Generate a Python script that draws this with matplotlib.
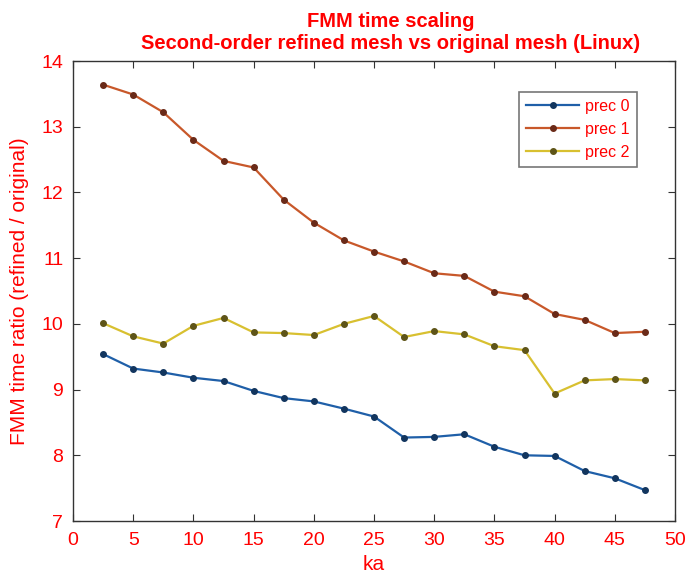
import matplotlib
matplotlib.use("Agg")
import matplotlib.pyplot as plt

plt.rcParams['font.family'] = ['Liberation Sans', 'DejaVu Sans']

# ka sample points and refined/original time ratios per precision level
ka = [2.5, 5, 7.5, 10, 12.5, 15, 17.5, 20, 22.5, 25,
      27.5, 30, 32.5, 35, 37.5, 40, 42.5, 45, 47.5]
prec0 = [9.54, 9.32, 9.26, 9.18, 9.13, 8.98, 8.87, 8.82, 8.71, 8.59,
         8.27, 8.28, 8.32, 8.13, 8.00, 7.99, 7.76, 7.65, 7.47]
prec1 = [13.64, 13.49, 13.22, 12.80, 12.48, 12.38, 11.89, 11.54, 11.27, 11.10,
         10.95, 10.77, 10.73, 10.49, 10.42, 10.15, 10.06, 9.86, 9.88]
prec2 = [10.01, 9.81, 9.70, 9.97, 10.09, 9.87, 9.86, 9.83, 10.00, 10.12,
         9.80, 9.89, 9.84, 9.66, 9.60, 8.94, 9.14, 9.16, 9.14]
labels = ['prec 0', 'prec 1', 'prec 2']

line_colors = ['#1f5fa8', '#c8582a', '#d8c030']
marker_colors = ['#12355e', '#6a2a18', '#5e5418']
red = '#ff0000'

fig = plt.figure(figsize=(6.9, 5.75), dpi=100)
ax = fig.add_axes([0.1058, 0.0939, 0.8725, 0.8000])

for y, lab, lc, mc in zip([prec0, prec1, prec2], labels, line_colors, marker_colors):
    ax.plot(ka, y, '-o', color=lc, lw=1.6, ms=4, mfc=mc, mec=mc, label=lab)

ax.set_xlim(0, 50)
ax.set_ylim(7, 14)
ax.set_xticks(range(0, 51, 5))
ax.set_yticks(range(7, 15))
ax.tick_params(direction='in', top=True, right=True, length=5,
               color='#333333', labelcolor=red, labelsize=14)
ax.tick_params(axis='x', pad=8)
ax.tick_params(axis='y', pad=7)
for s in ax.spines.values():
    s.set_color('#333333')
    s.set_linewidth(1.0)

ax.set_xlabel('ka', color=red, fontsize=15, labelpad=4)
ax.set_ylabel('FMM time ratio (refined / original)', color=red, fontsize=15, labelpad=9)
ax.set_title('FMM time scaling\nSecond-order refined mesh vs original mesh (Linux)',
             color=red, fontsize=14.5, fontweight='bold', pad=9, linespacing=1.2,
             x=0.527)

leg = ax.legend(loc='upper right', bbox_to_anchor=(0.937, 0.933), borderaxespad=0,
                fontsize=11.5, frameon=True, fancybox=False, edgecolor='#555555',
                handlelength=3.3, borderpad=0.45, labelspacing=0.5, handletextpad=0.4)
leg.get_frame().set_linewidth(1.2)
for t in leg.get_texts():
    t.set_color(red)

fig.savefig('out.png', dpi=100)
